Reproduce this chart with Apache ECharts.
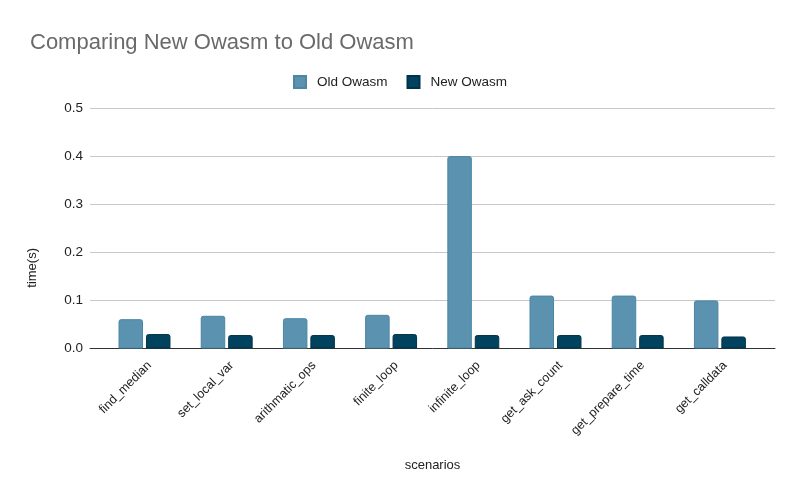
<!DOCTYPE html>
<html><head><meta charset="utf-8">
<script src="https://cdn.jsdelivr.net/npm/echarts@6/dist/echarts.min.js"></script>
<style>html,body{margin:0;padding:0;background:#fff}#c{width:800px;height:497px}</style>
</head><body><div id="c"></div>
<script>
const categories = ["find_median","set_local_var","arithmatic_ops","finite_loop","infinite_loop","get_ask_count","get_prepare_time","get_calldata"];
const oldOwasm = [0.061,0.068,0.063,0.070,0.400,0.110,0.110,0.100];
const newOwasm = [0.030,0.028,0.028,0.030,0.028,0.028,0.028,0.025];
const yTicks = [0,0.1,0.2,0.3,0.4,0.5];
const chart = echarts.init(document.getElementById('c'));
const font = "Liberation Sans, Arial, sans-serif";
const yMin = yTicks[0], yMax = yTicks[yTicks.length-1];
const hiddenY = i => ({type:"value",gridIndex:i,min:yMin,max:yMax,interval:0.1,show:false,splitLine:{show:false}});
chart.setOption({
  animation:false,
  title:{text:"Comparing New Owasm to Old Owasm",left:25,top:27,textStyle:{fontFamily:font,fontSize:22,fontWeight:"normal",color:"#6a6a6a"}},
  legend:{top:70,left:"center",itemWidth:12,itemHeight:12,itemGap:19,icon:"rect",
    textStyle:{fontFamily:font,fontSize:13.5,color:"#222",padding:[0,0,0,6]},data:["Old Owasm","New Owasm"]},
  grid:[
    {left:90,right:25,top:108,bottom:148.5},
    {left:103.4,right:39,top:108,bottom:148.5},
    {left:108.4,right:34,top:108,bottom:148.5}
  ],
  xAxis:[
    {type:"category",gridIndex:0,data:categories,name:"scenarios",nameLocation:"middle",nameGap:110,
      nameTextStyle:{fontFamily:font,fontSize:13,color:"#222"},
      axisLine:{lineStyle:{color:"#333",width:1}},axisTick:{show:false},axisLabel:{show:false}},
    {type:"category",gridIndex:1,data:categories,axisLine:{show:false},axisTick:{show:false},axisLabel:{show:false}},
    {type:"category",gridIndex:2,data:categories,axisLine:{show:false},axisTick:{show:false},
      axisLabel:{rotate:45,fontFamily:font,fontSize:12.5,color:"#222",margin:15,interval:0}}
  ],
  yAxis:[
    {type:"value",gridIndex:0,min:yMin,max:yMax,interval:0.1,
      axisLabel:{fontFamily:font,fontSize:13.5,color:"#222",margin:7,formatter:v=>v.toFixed(1)},
      splitLine:{lineStyle:{color:"#c8c8c8"}},axisLine:{show:false},axisTick:{show:false}},
    hiddenY(1), hiddenY(2)
  ],
  graphic:[{type:"text",left:26,top:248,rotation:Math.PI/2,
    style:{text:"time(s)",font:"13px "+font,fill:"#222"}}],
  series:[
    {name:"Old Owasm",type:"bar",xAxisIndex:1,yAxisIndex:1,data:oldOwasm,barWidth:24.5,barGap:"12%",
      itemStyle:{color:"#5A92AF",borderColor:"#4b86a4",borderWidth:1,borderRadius:[2,2,0,0]}},
    {name:"New Owasm",type:"bar",xAxisIndex:1,yAxisIndex:1,data:newOwasm,barWidth:24.5,
      itemStyle:{color:"#01435F",borderColor:"#00334a",borderWidth:1,borderRadius:[2,2,0,0]}}
  ]
});
</script></body></html>
